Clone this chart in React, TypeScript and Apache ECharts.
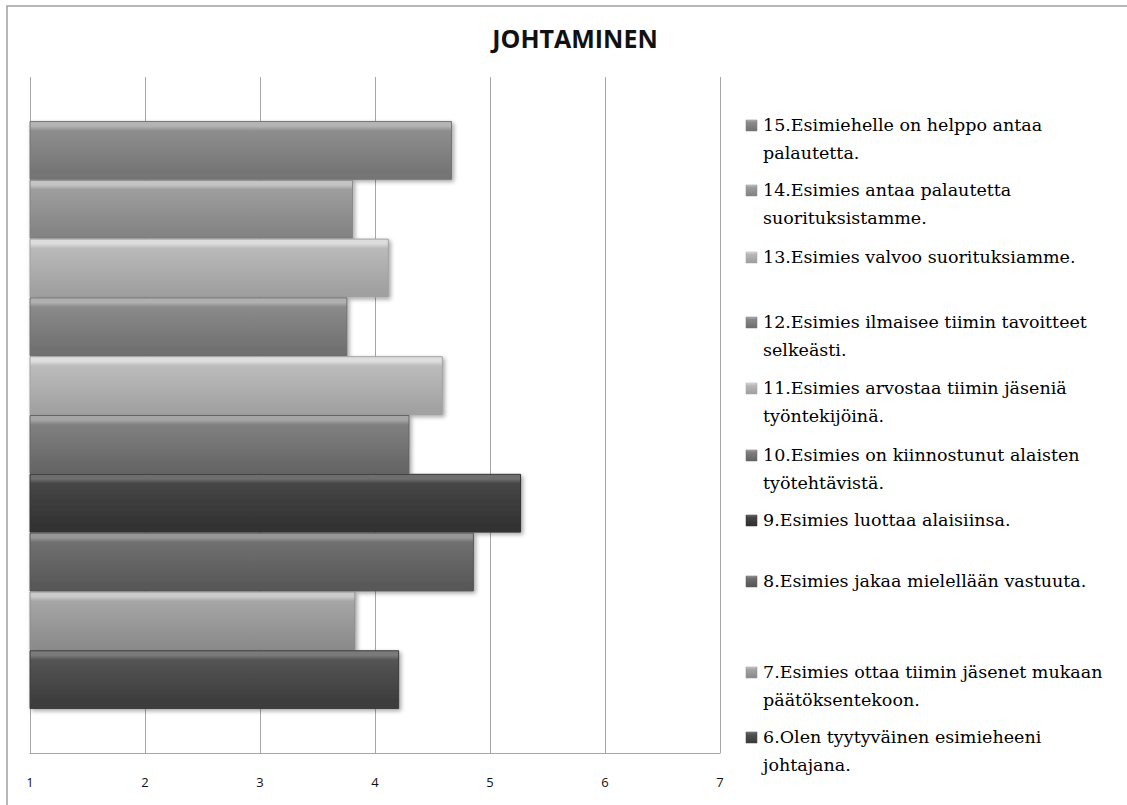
import React, { useEffect, useRef } from "react";
import * as echarts from "echarts";

const categories = [""];
const itemNames = [
  "15.Esimiehelle on helppo antaa\npalautetta.",
  "14.Esimies antaa palautetta\nsuorituksistamme.",
  "13.Esimies valvoo suorituksiamme.",
  "12.Esimies ilmaisee tiimin tavoitteet\nselkeästi.",
  "11.Esimies arvostaa tiimin jäseniä\ntyöntekijöinä.",
  "10.Esimies on kiinnostunut alaisten\ntyötehtävistä.",
  "9.Esimies luottaa alaisiinsa.",
  "8.Esimies jakaa mielellään vastuuta.",
  "7.Esimies ottaa tiimin jäsenet mukaan\npäätöksentekoon.",
  "6.Olen tyytyväinen esimieheeni\njohtajana.",
];
const values = [4.67, 3.81, 4.12, 3.76, 4.59, 4.3, 5.27, 4.86, 3.83, 4.21];
const xTicks = [1, 2, 3, 4, 5, 6, 7];

// [top, base, bottom] shades per series
const shades = [
  ["#b4b4b4", "#8e8e8e", "#747474"],
  ["#c4c4c4", "#9e9e9e", "#848484"],
  ["#dcdcdc", "#bababa", "#a0a0a0"],
  ["#b0b0b0", "#8a8a8a", "#707070"],
  ["#dedede", "#bcbcbc", "#a2a2a2"],
  ["#a6a6a6", "#808080", "#666666"],
  ["#6e6e6e", "#464646", "#323232"],
  ["#969696", "#707070", "#585858"],
  ["#cacaca", "#a6a6a6", "#8c8c8c"],
  ["#7a7a7a", "#545454", "#3c3c3c"],
];
const legendY = [125, 190, 257, 322, 388, 455, 520, 581, 672, 737];

function grad(s: string[]) {
  return new echarts.graphic.LinearGradient(0, 0, 0, 1, [
    { offset: 0, color: s[0] },
    { offset: 0.08, color: s[0] },
    { offset: 0.16, color: s[1] },
    { offset: 0.9, color: s[2] },
    { offset: 1, color: s[2] },
  ]);
}

export default function App() {
  const ref = useRef<HTMLDivElement>(null);
  useEffect(() => {
    if (!ref.current) return;
    const chart = echarts.init(ref.current, null, { renderer: "svg" });
    const series = values.map((v, i) => ({
      type: "bar",
      name: itemNames[i],
      data: [v],
      barGap: "0%",
      barCategoryGap: "13%",
      clip: true,
      itemStyle: {
        color: grad(shades[i]),
        borderColor: shades[i][2],
        borderWidth: 1,
        shadowColor: "rgba(0,0,0,0.35)",
        shadowBlur: 4,
        shadowOffsetX: 2,
        shadowOffsetY: 2,
      },
    }));
    const legendGraphics: any[] = [];
    itemNames.forEach((n, i) => {
      legendGraphics.push({
        type: "rect",
        shape: { x: 746, y: legendY[i] - 5, width: 11, height: 11 },
        style: { fill: grad(shades[i]), stroke: shades[i][2], lineWidth: 0.5 },
      });
      legendGraphics.push({
        type: "text",
        x: 763,
        y: legendY[i] - 14,
        style: {
          text: n,
          fill: "#000",
          font: "17.5px 'DejaVu Serif'",
          lineHeight: 28,
          textVerticalAlign: "top",
        },
      });
    });
    chart.setOption({
      animation: false,
      backgroundColor: "#fff",
      title: {
        text: "JOHTAMINEN",
        left: 570,
        top: 20,
        textAlign: "center",
        textStyle: {
          fontFamily: "'Open Sans'",
          fontWeight: "bold",
          fontSize: 25,
          color: "#111",
        },
      },
      grid: { left: 30, right: 407, top: 77, bottom: 52, containLabel: false },
      xAxis: {
        type: "value",
        min: xTicks[0],
        max: xTicks[xTicks.length - 1],
        interval: 1,
        axisLine: { show: true, lineStyle: { color: "#a6a6a6", width: 1 } },
        axisTick: { show: false },
        splitLine: { show: true, lineStyle: { color: "#a6a6a6", width: 1 } },
        axisLabel: {
          margin: 22,
          color: "#111",
          fontFamily: "'Open Sans'",
          fontSize: 13,
        },
      },
      yAxis: {
        type: "category",
        data: categories,
        inverse: true,
        axisLine: { show: false },
        axisTick: { show: false },
        axisLabel: { show: false },
      },
      series,
      graphic: [
        {
          type: "polyline",
          shape: { points: [[7, 805], [7, 6], [1127, 6]] },
          style: { stroke: "#a0a0a0", lineWidth: 1.5, fill: "none" },
        },
        ...legendGraphics,
      ],
    });
    return () => chart.dispose();
  }, []);
  return (
    <div
      ref={ref}
      style={{ position: "fixed", left: 0, top: 0, width: 1127, height: 805 }}
    />
  );
}
